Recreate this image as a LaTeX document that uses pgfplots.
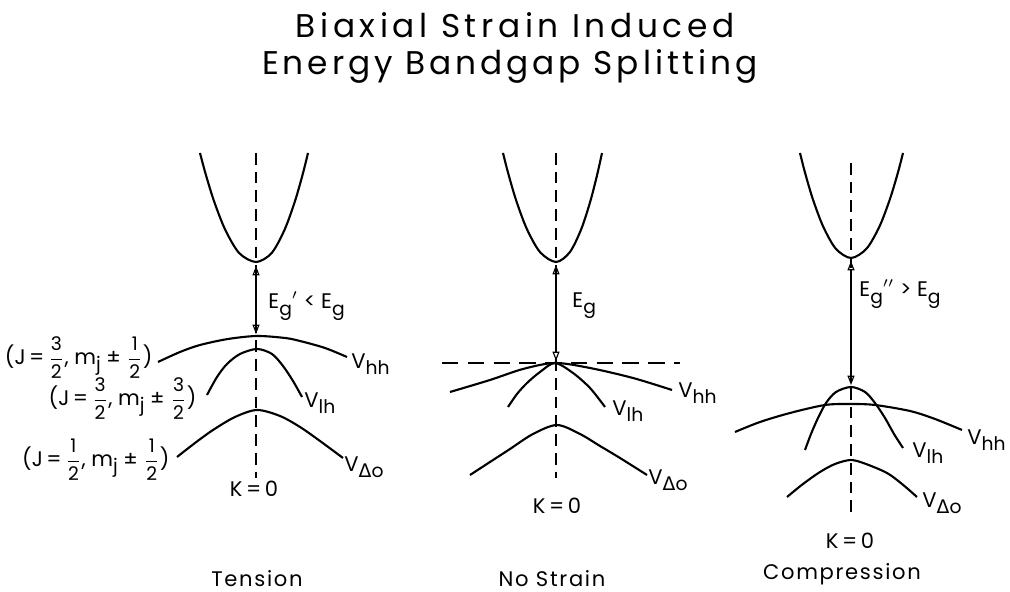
\documentclass[border=0pt]{standalone}
\usepackage{pgfplots}
\pgfplotsset{compat=1.18}
\usetikzlibrary{arrows.meta}
\usepackage{amsmath}
\usepackage{fontspec}
\setmainfont{Poppins}
\newfontfamily\dejavu{DejaVu Sans}
\newcommand\sub[1]{\raisebox{-0.55ex}{\footnotesize #1}}
\newcommand\fr[2]{$\dfrac{\text{\footnotesize #1}}{\text{\footnotesize #2}}$}
\begin{document}
\begin{tikzpicture}
\begin{axis}[scale only axis, width=15.15cm, height=8.88cm,
  xmin=0, xmax=1010, ymin=0, ymax=592, y dir=reverse,
  axis lines=none, clip=false,
  every axis plot/.append style={black, line width=0.9pt, no marks}]
% invisible frame
\addplot[draw=none] coordinates {(0,0) (1010,592)};
% ---------------- Tension ----------------
\addplot[dashed, line width=0.7pt, dash pattern=on 5pt off 3pt] coordinates {(256,153) (256,478)};
\addplot[smooth] coordinates {(200,153) (205.6,173.9) (214,201.1) (225.2,229.7) (239.2,253.1) (256,262) (271.6,253.1) (284.6,229.7) (295,201.1) (302.8,173.9) (308,153)};
\addplot[smooth] coordinates {(158,362) (180,352) (200,345) (228,339) (257,336) (285,338) (300,341) (325,348) (347,357)};
\addplot[smooth] coordinates {(207,395) (217,377) (227,364) (240,354) (257,349) (272,354) (283,366) (293,381) (302,397)};
\addplot[smooth] coordinates {(177,457) (195,443) (213,430) (235,417) (257,410) (280,416) (300,427) (320,441) (343,458)};
\addplot[line width=0.5pt, {Triangle[open,length=4pt,width=3pt]}-{Triangle[open,length=4pt,width=3pt]}] coordinates {(256,266) (256,334)};
% ---------------- No strain ----------------
\addplot[dashed, line width=0.7pt, dash pattern=on 5pt off 3pt] coordinates {(556,153) (556,478)};
\addplot[dashed, line width=0.7pt, dash pattern=on 7pt off 4pt] coordinates {(442,363) (680,363)};
\addplot[smooth] coordinates {(503,153) (508.3,173.7) (516.25,200.7) (526.85,229) (540.1,252.2) (556,262) (569.8,252.2) (581.3,229) (590.5,200.7) (597.4,173.7) (602,153)};
\addplot[smooth] coordinates {(450,392) (490,380) (523,369) (555,363) (590,368) (633,378) (672,390)};
\addplot[smooth] coordinates {(508,407) (517,394) (527,383) (540,372) (555,363) (573,373) (590,388) (605,407)};
\addplot[smooth] coordinates {(470,475) (490,462) (510,449) (533,434) (557,425) (580,434) (600,446) (620,458) (647,475)};
\addplot[line width=0.5pt, {Triangle[open,length=4pt,width=3pt]}-{Triangle[open,length=4pt,width=3pt]}] coordinates {(556,265) (556,361)};
% ---------------- Compression ----------------
\addplot[dashed, line width=0.7pt, dash pattern=on 5pt off 3pt] coordinates {(851,163) (851,518)};
\addplot[smooth] coordinates {(800,153) (805.1,173) (812.75,198.9) (823,226.2) (835.7,248.6) (851,258) (866.6,248.6) (879.6,226.2) (890,198.9) (897.8,173) (903,153)};
\addplot[smooth] coordinates {(735,432) (760,422) (790,413) (825,405) (851,404) (875,405) (910,411) (935,419) (962,430)};
\addplot[smooth] coordinates {(805,450) (811,434) (818,418) (826,403) (836,392) (851,387) (865,392) (875,403) (885,418) (894,434) (903,448)};
\addplot[smooth] coordinates {(787,497) (803,484) (820,472) (835,464) (851,460) (866,464) (887,473) (902,484) (917,497)};
\addplot[line width=0.5pt, {Triangle[open,length=4pt,width=3pt]}-{Triangle[open,length=4pt,width=3pt]}] coordinates {(851,261) (851,385)};
% ---------------- Text ----------------
\node[font=\fontsize{14}{16}\selectfont\addfontfeatures{LetterSpace=14}] at (axis cs:515,25) {Biaxial Strain Induced};
\node[font=\fontsize{14}{16}\selectfont\addfontfeatures{LetterSpace=12}] at (axis cs:510,66) {Energy Bandgap Splitting};
\begin{scope}[every node/.style={font=\fontsize{9}{10}\selectfont, inner sep=0pt}]
\node[anchor=west] at (axis cs:268,306) {E\sub{g}$'$ < E\sub{g}};
\node[anchor=west] at (axis cs:572,306) {E\sub{g}};
\node[anchor=west] at (axis cs:859,294) {E\sub{g}$''$ > E\sub{g}};
\node[anchor=west] at (axis cs:351,364) {V\sub{hh}};
\node[anchor=west] at (axis cs:304,403) {V\sub{lh}};
\node[anchor=west] at (axis cs:344,467) {V\sub{{\dejavu Δ}o}};
\node[anchor=west] at (axis cs:678,393) {V\sub{hh}};
\node[anchor=west] at (axis cs:612,411) {V\sub{lh}};
\node[anchor=west] at (axis cs:648,480) {V\sub{{\dejavu Δ}o}};
\node[anchor=west] at (axis cs:967,440) {V\sub{hh}};
\node[anchor=west] at (axis cs:912,453) {V\sub{lh}};
\node[anchor=west] at (axis cs:922,503) {V\sub{{\dejavu Δ}o}};
\node at (axis cs:254,489) {K\,=\,0};
\node at (axis cs:557,506) {K\,=\,0};
\node at (axis cs:850,541) {K\,=\,0};
\node[font=\fontsize{9}{10}\selectfont\addfontfeatures{LetterSpace=8}] at (axis cs:257,579) {Tension};
\node[font=\fontsize{9}{10}\selectfont\addfontfeatures{LetterSpace=8}] at (axis cs:552,579) {No Strain};
\node[font=\fontsize{9}{10}\selectfont\addfontfeatures{LetterSpace=8}] at (axis cs:842,574) {Compression};
\node[anchor=east] at (axis cs:153,358) {(J\,=\,\fr{3}{2}, m\sub{j} ± \fr{1}{2})};
\node[anchor=east] at (axis cs:197,399) {(J\,=\,\fr{3}{2}, m\sub{j} ± \fr{3}{2})};
\node[anchor=east] at (axis cs:170,460) {(J\,=\,\fr{1}{2}, m\sub{j} ± \fr{1}{2})};
\end{scope}
\end{axis}
\end{tikzpicture}
\end{document}
